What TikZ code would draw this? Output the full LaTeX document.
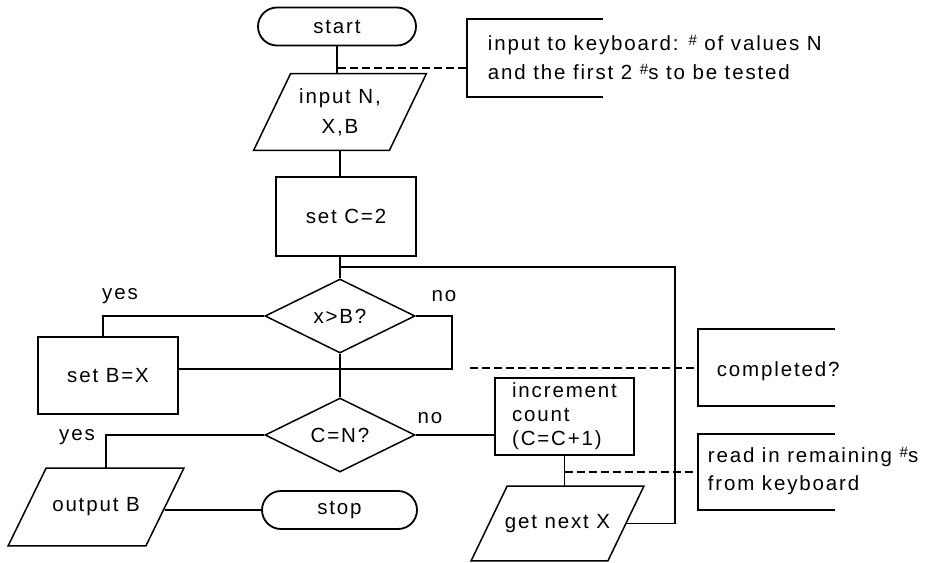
\documentclass[tikz,border=0pt]{standalone}
\usepackage{fontspec}
\setmainfont[LetterSpace=9]{Liberation Sans}
\usetikzlibrary{shapes.geometric,calc}
\newcommand\hs{\raisebox{0.5ex}{\fontsize{15}{15}\selectfont\#}}
\newcommand\paraoutline[2]{\draw[slant] ($(#1.north west)+(#2,0)$) -- ($(#1.north east)+(#2,0)$) -- ($(#1.south east)-(#2,0)$) -- ($(#1.south west)-(#2,0)$) -- cycle;}
\begin{document}
\begin{tikzpicture}[x=1pt,y=-1pt, line width=1.8pt,
  every node/.style={font=\fontsize{20.5}{24}\selectfont, inner sep=0pt},
  term/.style={draw, rounded corners=19pt, minimum height=38pt},
  proc/.style={draw, rectangle},
  dec/.style={draw, diamond, minimum width=150pt, minimum height=74pt, line width=1.5pt},
  io/.style={rectangle, minimum height=75pt},
  slant/.style={line width=1.5pt},
  note/.style={align=left, anchor=west},
  dashline/.style={dash pattern=on 8pt off 4pt, line width=1.8pt}]
\useasboundingbox (0,0) rectangle (931,562);
% flowchart nodes
\node[term, minimum width=158pt] (start) at (337,26.5) {start};
\node[io, minimum width=134pt, align=center, font=\fontsize{20.5}{30}\selectfont] (inp) at (340,112) {input N,\\X,B};
\paraoutline{inp}{18.5}
\node[proc, minimum width=140pt, minimum height=79pt] (setc) at (346,216.5) {set C=2};
\node[dec] (xb) at (340,316) {x>B?};
\node[proc, minimum width=140pt, minimum height=77pt] (setb) at (108,375.5) {set B=X};
\node[dec] (cn) at (340,435) {C=N?};
\node[proc, minimum width=139pt, minimum height=77pt, align=left] (inc) at (564.5,416.5) {increment\\count\\(C=C+1)};
\node[io, minimum width=136pt, minimum height=76pt] (outb) at (96,507) {output B};
\paraoutline{outb}{19}
\node[term, minimum width=155pt] (stop) at (339.5,510) {stop};
\node[io, minimum width=135pt, minimum height=73pt] (getx) at (557.5,523.5) {get next X};
\paraoutline{getx}{18}
% branch labels
\node (y1) at (120,296) {yes};
\node (n1) at (444,296) {no};
\node (n2) at (430,418) {no};
\node (y2) at (77,437) {yes};
% connectors
\draw (start.south) -- (start.south |- inp.north);
\draw (inp.south) -- (inp.south |- setc.north);
\draw (setc.south -| xb.north) -- (xb.north);
\coordinate (loopR) at (675,267);
\draw (getx.east) -| (loopR) -- (loopR -| xb.north);
\coordinate (yesA) at (103,316);
\draw (xb.west) -- (yesA) -- (yesA |- setb.north);
\coordinate (noA) at (452,369);
\draw (xb.east) -| (noA) -- (noA -| setb.east);
\draw (xb.south) -- (cn.north);
\coordinate (yesB) at (106,435);
\draw (cn.west) -- (yesB) -- (yesB |- outb.north);
\draw (cn.east) -- (cn.east -| inc.west);
\draw (inc.south) -- (inc.south |- getx.north);
\draw (stop.west) -- (stop.west -| outb.east);
% annotations
\node[note, font=\fontsize{20.5}{29}\selectfont] (noteA) at (487,57.5) {input to keyboard: \hs{} of values N\\and the first 2 \hs{}s to be tested};
\draw (603,19) -- (467,19) -- (467,97) -- (603,97);
\coordinate (dA) at (338,68);
\coordinate (brA) at (467,68);
\draw[dashline] (dA) -- (brA);
\node[note] (noteB) at (716,371) {completed?};
\draw (835,329) -- (698,329) -- (698,406) -- (835,406);
\coordinate (dB) at (470,368);
\coordinate (brB) at (698,368);
\draw[dashline] (dB) -- (brB);
\node[note, font=\fontsize{20.5}{28}\selectfont] (noteC) at (707,471) {read in remaining \hs{}s\\from keyboard};
\draw (835,434) -- (698,434) -- (698,510) -- (835,510);
\coordinate (dC) at (564.5,472);
\coordinate (brC) at (698,472);
\draw[dashline] (dC) -- (brC);
\end{tikzpicture}
\end{document}
